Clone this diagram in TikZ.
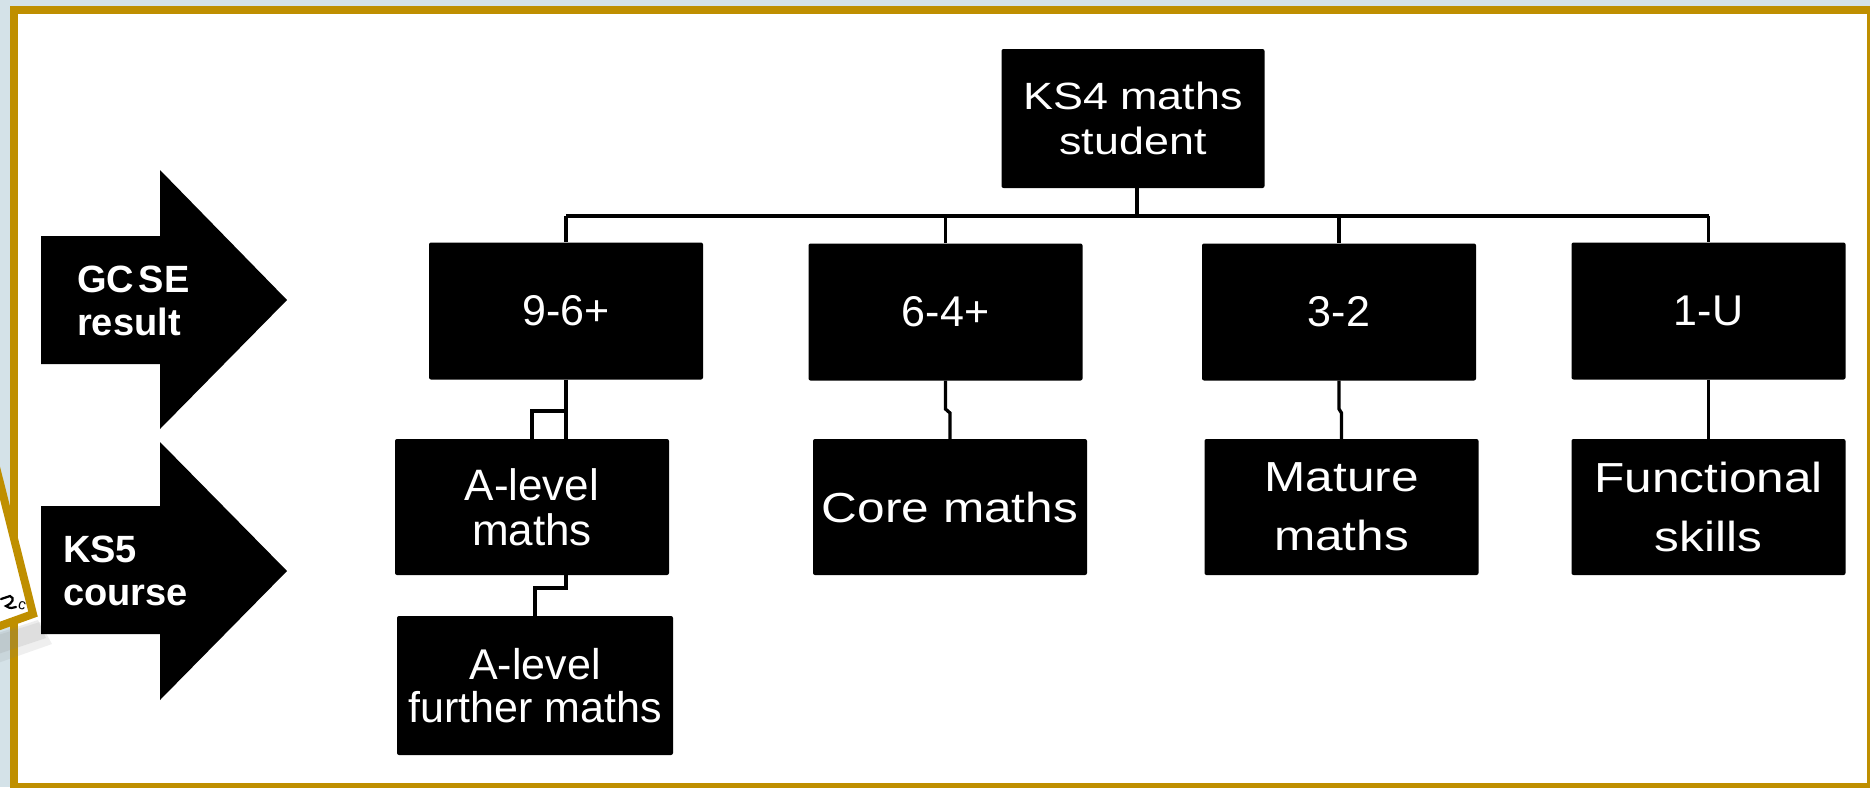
\documentclass[tikz,border=0pt]{standalone}
\usepackage{fontspec}
\setmainfont{Liberation Sans}
\newfontfamily\widefont[FakeStretch=1.18]{Liberation Sans}
\usetikzlibrary{calc}
\definecolor{bgblue}{HTML}{D4E2E8}
\definecolor{gold}{HTML}{BF8F00}
\begin{document}
\begin{tikzpicture}[x=1pt,y=-1pt,
  box/.style={fill=black, rounded corners=2pt, text=white, align=center, inner sep=0pt},
  gradebox/.style={box, minimum width=274pt, minimum height=137pt, font=\fontsize{43}{50}\selectfont},
  widebox/.style={box, minimum width=274pt, minimum height=136pt, font=\widefont\fontsize{42}{59}\selectfont},
  conn/.style={draw=black, line width=3.3pt},
  busline/.style={draw=black, line width=4pt},
  arrowshape/.style={fill=black},
  arrowtext/.style={text=white, align=left, inner sep=0pt, anchor=west, font=\bfseries\fontsize{38}{43}\selectfont}
]
\useasboundingbox (0,0) rectangle (1870,787);
\clip (0,0) rectangle (1870,787);
\fill[bgblue] (0,0) rectangle (1870,787);
\draw[gold, line width=8pt, fill=white] (14,10) rectangle (1871,787);

% overlapping card at the left edge
\fill[gray, opacity=0.12] (-5,636) -- (40,622) -- (52,644) -- (-5,664) -- cycle;
\fill[gray, opacity=0.15] (-5,634) -- (38,620) -- (46,638) -- (-5,655) -- cycle;
\draw[gold, line width=8pt, fill=white, line join=miter] (-8.3,450) -- (33,614) -- (-10,629.5) -- (-60,629.5) -- (-60,450) -- cycle;
\draw[black, line width=2.2pt, line cap=round] (1,599) -- (10,596) .. controls (15,598) and (13,603) .. (6,606) .. controls (10,609) and (13,608) .. (16,607);
\node[rotate=-15, font=\fontsize{15}{15}\selectfont, inner sep=0pt] (cardc) at (22,606) {c};

% left arrows
\fill[arrowshape] (41,236) -- (160,236) -- (160,170) -- (287,300) -- (160,429) -- (160,364) -- (41,364) -- cycle;
\fill[arrowshape] (41,506) -- (160,506) -- (160,442) -- (287,571) -- (160,700) -- (160,634) -- (41,634) -- cycle;
\node[arrowtext] (gcse) at (77,301) {GC\kern0.12em SE\\result};
\node[arrowtext] (ks5) at (63,571) {KS5\\course};

% boxes
\node[box, minimum width=263pt, minimum height=139pt, font=\widefont\fontsize{38}{45}\selectfont] (ks4) at (1133,118.5) {KS4 maths\\student};
\node[gradebox] (g96) at (566,311) {9-6+};
\node[gradebox] (g64) at (945.5,312) {6-4+};
\node[gradebox] (g32) at (1339,312) {3-2};
\node[gradebox] (g1U) at (1708.5,311) {1-U};
\node[box, minimum width=274pt, minimum height=136pt, font=\fontsize{44}{45}\selectfont] (alm) at (532,507) {A-level\\maths};
\node[widebox] (core) at (950,507) {Core maths};
\node[widebox] (mature) at (1341.5,507) {Mature\\maths};
\node[widebox] (func) at (1708.5,507) {Functional\\skills};
\node[box, minimum width=276pt, minimum height=139pt, font=\fontsize{43}{43}\selectfont] (further) at (535,685.5) {A-level\\further maths};

% connectors
\coordinate (busy) at (0,216);
\coordinate (kx) at (1137,0);
\coordinate (ja) at (0,411);
\coordinate (jb) at (0,409);
\coordinate (jc) at (0,413);
\coordinate (jd) at (0,588);
\draw[busline] (g96.north |- busy) -- (g1U.north |- busy);
\draw[conn] (kx |- ks4.south) -- (kx |- busy);
\draw[conn] (g96.north |- busy) -- (g96.north);
\draw[conn] (g64.north |- busy) -- (g64.north);
\draw[conn] (g32.north |- busy) -- (g32.north);
\draw[conn] (g1U.north |- busy) -- (g1U.north);
\draw[conn] (g96.south) -- (g96.south |- alm.north);
\draw[conn] (g96.south |- ja) -| (alm.north);
\draw[conn] (g64.south) -- (g64.south |- jb) -- (core.north |- jc) -- (core.north);
\draw[conn] (g32.south) -- (g32.south |- jb) -- (mature.north |- jc) -- (mature.north);
\draw[conn] (g1U.south) -- (func.north);
\draw[conn] (g96.south |- alm.south) -- (g96.south |- jd) -| (further.north);
\end{tikzpicture}
\end{document}
